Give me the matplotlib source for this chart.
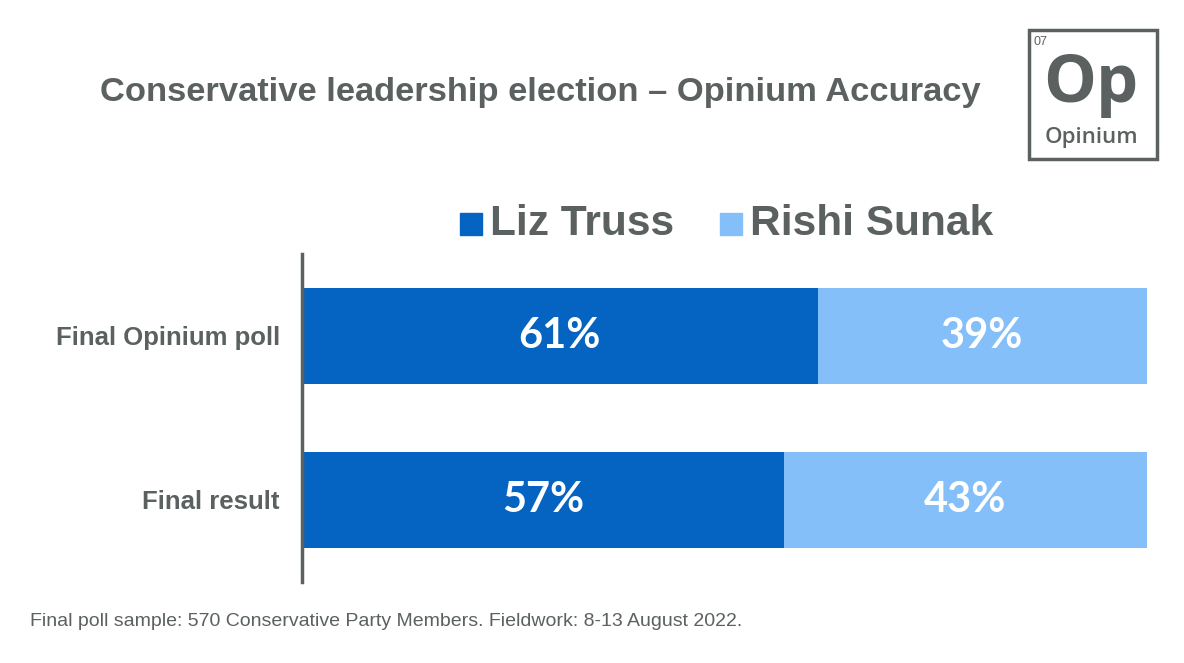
import matplotlib.pyplot as plt
from matplotlib.patches import Rectangle

# data
categories = ['Final result', 'Final Opinium poll']
truss = [57, 61]
sunak = [43, 39]
series_names = ['Liz Truss', 'Rishi Sunak']

# colours
dark_blue = '#0563C1'
light_blue = '#85BFFA'
grey = '#5B6160'

plt.rcParams['font.family'] = ['Liberation Sans', 'DejaVu Sans']

fig = plt.figure(figsize=(11.84, 6.63), dpi=100)
ax = fig.add_axes([0.2551, 0.1222, 0.7137, 0.4947])

ypos = list(range(len(categories)))
ax.barh(ypos, truss, height=0.59, color=dark_blue)
ax.barh(ypos, sunak, left=truss, height=0.59, color=light_blue)

# value labels inside bars
for y, t, s in zip(ypos, truss, sunak):
    ax.text(t / 2, y, f'{t}%', ha='center', va='center', color='white',
            fontsize=30, fontweight='bold', family=['Lato', 'DejaVu Sans'])
    ax.text(t + s / 2, y, f'{s}%', ha='center', va='center', color='white',
            fontsize=30, fontweight='bold', family=['Lato', 'DejaVu Sans'])

ax.set_xlim(0, 100)
ax.set_ylim(-0.5, 1.5)
ax.set_yticks(ypos)
ax.set_yticklabels(categories, fontsize=18.5, fontweight='bold', color=grey)
ax.tick_params(axis='y', length=0, pad=16)
ax.set_xticks([])
for side in ['top', 'right', 'bottom']:
    ax.spines[side].set_visible(False)
ax.spines['left'].set_color(grey)
ax.spines['left'].set_linewidth(2.5)

# title
fig.text(540 / 1184, 0.861, 'Conservative leadership election \u2013 Opinium Accuracy',
         ha='center', va='center', fontsize=24.8, fontweight='bold', color=grey)

# legend drawn by hand
fig.patches.append(Rectangle((460 / 1184, 1 - 235 / 663), 22 / 1184, 22 / 663,
                             transform=fig.transFigure, color=dark_blue))
fig.text(490 / 1184, 1 - 224 / 663, series_names[0], ha='left', va='center',
         fontsize=30.5, fontweight='bold', color=grey)
fig.patches.append(Rectangle((720 / 1184, 1 - 235 / 663), 22 / 1184, 22 / 663,
                             transform=fig.transFigure, color=light_blue))
fig.text(750 / 1184, 1 - 224 / 663, series_names[1], ha='left', va='center',
         fontsize=30.5, fontweight='bold', color=grey)

# footnote
fig.text(30 / 1184, 1 - 622 / 663,
         'Final poll sample: 570 Conservative Party Members. Fieldwork: 8-13 August 2022.',
         ha='left', va='center', fontsize=14, color=grey)

# logo box
fig.patches.append(Rectangle((1029 / 1184, 1 - 159 / 663), 128 / 1184, 129 / 663,
                             transform=fig.transFigure, fill=False,
                             edgecolor=grey, linewidth=2.5))
fig.text(1034 / 1184, 1 - 42 / 663, '07', ha='left', va='center', fontsize=9, color=grey)
fig.text(1091 / 1184, 1 - 85 / 663, 'Op', ha='center', va='center', fontsize=48,
         color=grey, family=['Open Sans', 'DejaVu Sans'], fontweight='bold')
fig.text(1091 / 1184, 1 - 138 / 663, 'Opinium', ha='center', va='center', fontsize=16,
         color=grey, family=['Open Sans', 'DejaVu Sans'], fontweight='semibold')

fig.savefig('out.png', dpi=100)
